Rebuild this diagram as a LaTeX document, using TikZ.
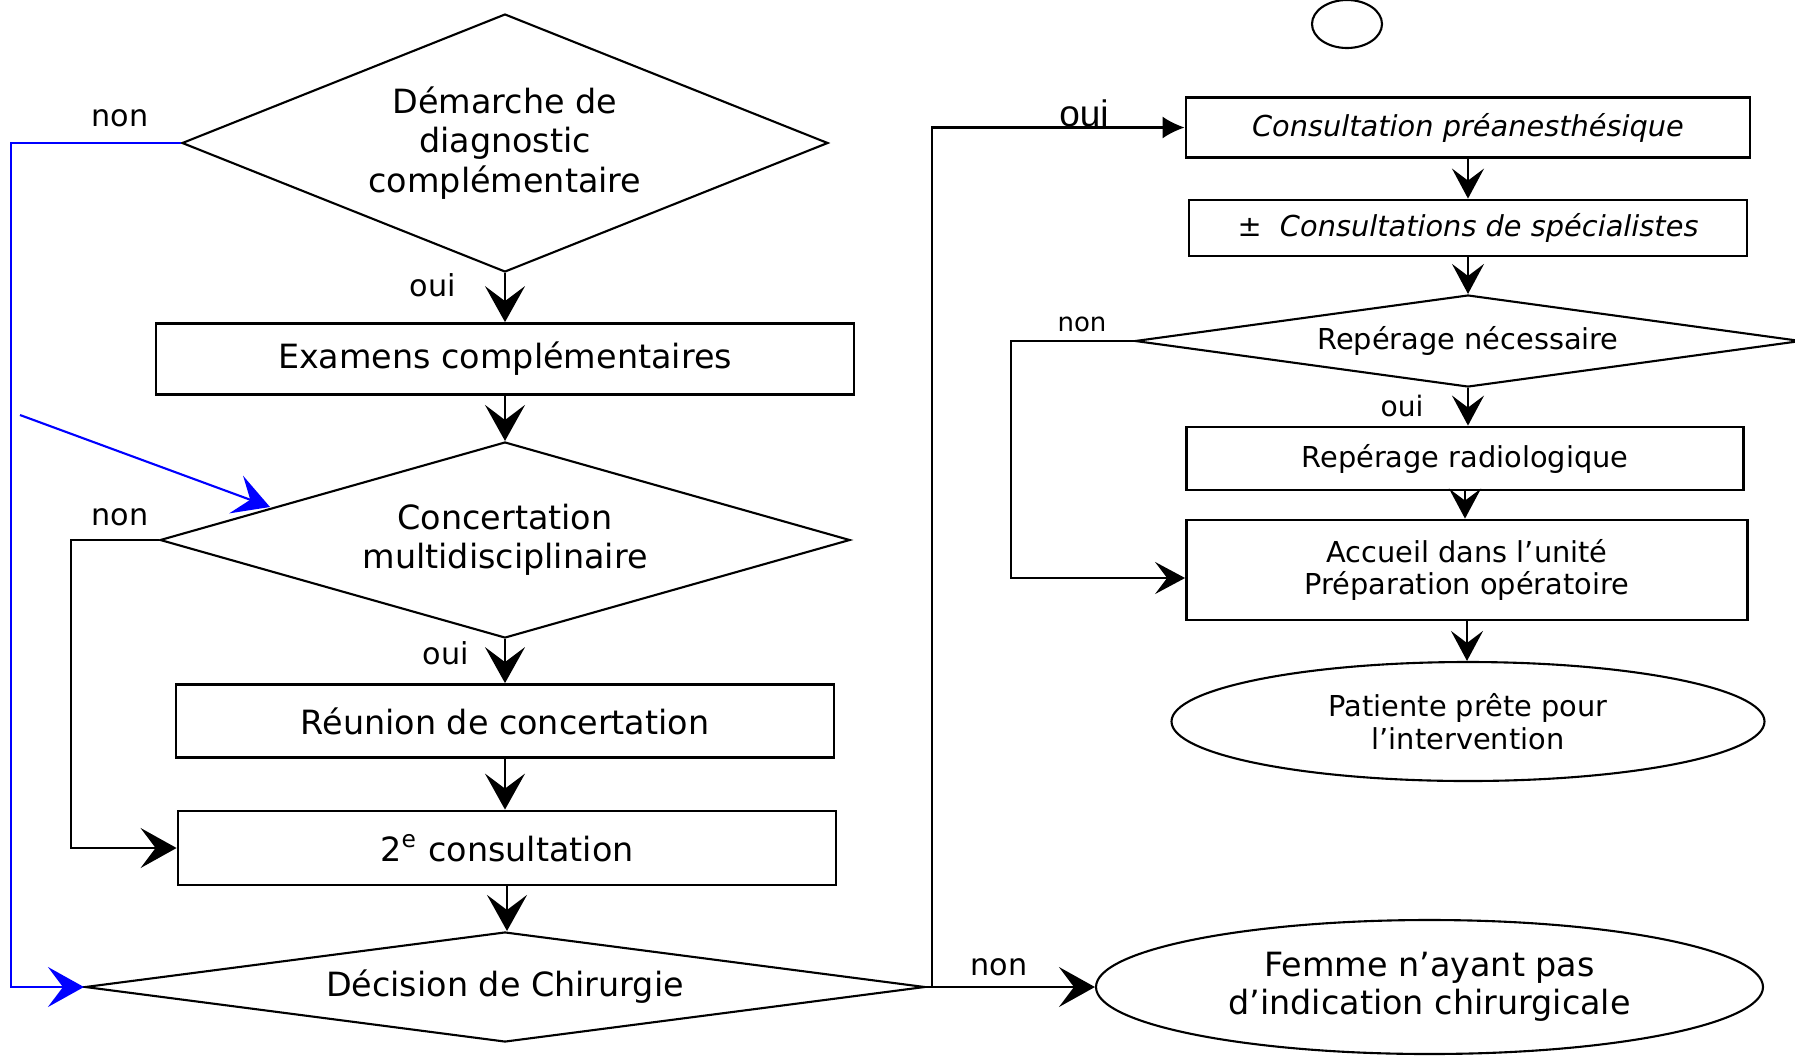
\documentclass[tikz,border=0pt]{standalone}
\usepackage{fontspec}
\setmainfont{DejaVu Sans}
\newfontfamily\ouifont{Liberation Sans}
\usetikzlibrary{arrows.meta, shapes.geometric}

\begin{document}
\begin{tikzpicture}
		\tikzstyle{Box} = [rectangle, draw=black, thick, inner sep=0pt, align=center, font=\fontsize{9.5}{11.2}\selectfont]
		\tikzstyle{Decision} = [diamond, draw=black, semithick, inner sep=0pt, align=center, font=\fontsize{9.5}{11.2}\selectfont]
		\tikzstyle{Terminal} = [ellipse, draw=black, semithick, inner sep=0pt, align=center]
		\tikzstyle{Answer} = [inner sep=1pt, font=\fontsize{8.6}{10}\selectfont]
		\tikzstyle{arrow} = [semithick,-{Stealth[length=3.6mm, width=4mm, inset=1.5mm]}]
		\tikzstyle{arrowS} = [semithick,-{Stealth[length=3mm, width=3.2mm, inset=1.2mm]}]
		\tikzstyle{small} = [font=\fontsize{8.2}{9.2}\selectfont]
		
		\useasboundingbox (0,0) rectangle (17.95,-10.56);
		
		% left column
		\node (diag) [Decision, minimum width=6.46cm, minimum height=2.58cm, shape aspect=2.5] at (5.05,-1.43) {Démarche de\\diagnostic\\complémentaire};
		\node (exam) [Box, minimum width=6.98cm, minimum height=0.71cm] at (5.05,-3.59) {Examens complémentaires};
		\node (concert) [Decision, minimum width=6.90cm, minimum height=1.96cm, shape aspect=3.5] at (5.05,-5.40) {Concertation\\multidisciplinaire};
		\node (reunion) [Box, minimum width=6.58cm, minimum height=0.73cm] at (5.05,-7.21) {Réunion de concertation};
		\node (consult) [Box, minimum width=6.58cm, minimum height=0.74cm] at (5.07,-8.48) {2\textsuperscript{e} consultation};
		\node (decision) [Decision, minimum width=8.40cm, minimum height=1.10cm, shape aspect=7.7] at (5.05,-9.87) {Décision de Chirurgie};
		
		% right column
		\node (start) [ellipse, draw=black, semithick, minimum width=0.70cm, minimum height=0.48cm, inner sep=0pt] at (13.47,-0.24) {};
		\node (preanes) [Box, font=\fontsize{8.2}{9.2}\selectfont\itshape, minimum width=5.64cm, minimum height=0.60cm] at (14.68,-1.275) {Consultation préanesthésique};
		\node (special) [Box, font=\fontsize{8.2}{9.2}\selectfont\itshape, minimum width=5.58cm, minimum height=0.56cm] at (14.68,-2.28) {±\ \ Consultations de spécialistes};
		\node (besoin) [Decision, small, minimum width=6.66cm, minimum height=0.92cm, shape aspect=7.3] at (14.68,-3.41) {Repérage nécessaire};
		\node (radio) [Box, small, minimum width=5.57cm, minimum height=0.63cm] at (14.65,-4.585) {Repérage radiologique};
		\node (accueil) [Box, small, minimum width=5.61cm, minimum height=1.00cm] at (14.67,-5.70) {Accueil dans l’unité\\Préparation opératoire};
		\node (prete) [Terminal, small, minimum width=5.93cm, minimum height=1.19cm] at (14.68,-7.215) {Patiente prête pour\\l’intervention};
		\node (femme) [Terminal, font=\fontsize{9.5}{10.8}\selectfont, minimum width=6.67cm, minimum height=1.34cm] at (14.295,-9.87) {Femme n’ayant pas\\d’indication chirurgicale};
		
		% answers
		\node (non1) [Answer] at (1.20,-1.18) {non};
		\node (oui1) [Answer] at (4.33,-2.85) {oui};
		\node (non2) [Answer] at (1.20,-5.17) {non};
		\node (oui2) [Answer] at (4.46,-6.53) {oui};
		\node (oui3) [inner sep=1pt, font=\ouifont\fontsize{10.5}{12}\selectfont] at (10.84,-1.13) {oui};
		\node (non3) [Answer, font=\fontsize{7.4}{9}\selectfont] at (10.82,-3.24) {non};
		\node (oui4) [Answer, font=\fontsize{8}{9}\selectfont] at (14.02,-4.06) {oui};
		\node (non4) [Answer] at (9.99,-9.67) {non};
		
		\coordinate (lineA) at (0.11,0);
		\coordinate (lineB) at (0.71,0);
		\coordinate (lineC) at (9.32,-9.87);
		\coordinate (lineD) at (10.11,0);
		\coordinate (blueS) at (0.20,-4.15);
		\coordinate (blueE) at (2.70,-5.07);
		
		\draw [arrow] (diag.south) -- (exam.north);
		\draw [arrow] (exam.south) -- (concert.north);
		\draw [arrow] (concert.south) -- (reunion.north);
		\draw [arrow] (reunion.south) -- (reunion.south |- consult.north);
		\draw [arrow] (consult.south) -- (consult.south |- decision.north);
		\draw [arrow] (concert.west) -- (concert.west -| lineB) |- (consult.west);
		\draw [arrow, blue] (diag.west) -- (diag.west -| lineA) |- (decision.west);
		\draw [arrow, blue] (blueS) -- (blueE);
		
		\draw [arrow] (decision.east) -- (femme.west);
		\draw [semithick,-{Latex[length=2.2mm, width=2.2mm]}] (lineC) |- (preanes.west);
		
		\draw [arrowS] (preanes.south) -- (special.north);
		\draw [arrowS] (special.south) -- (besoin.north);
		\draw [arrowS] (besoin.south) -- (besoin.south |- radio.north);
		\draw [arrowS] (radio.south) -- (radio.south |- accueil.north);
		\draw [arrowS] (accueil.south) -- (accueil.south |- prete.north);
		\draw [arrowS] (besoin.west) -- (besoin.west -| lineD) |- ([yshift=-0.08cm]accueil.west);
\end{tikzpicture}
\end{document}
